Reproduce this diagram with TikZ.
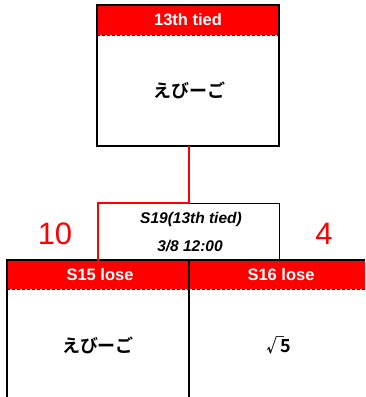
\documentclass[tikz,border=0pt]{standalone}
\usepackage{fontspec}
\setmainfont{Liberation Sans}
\newfontfamily\cjk{Noto Sans CJK JP}[UprightFont=* Bold]
\definecolor{hdr}{RGB}{255,0,0}
\begin{document}
\begin{tikzpicture}[x=1pt,y=-1pt,
  boxline/.style={draw=black,line width=2pt},
  hdrtext/.style={text=white,font=\fontsize{16.5}{16.5}\selectfont\bfseries},
  nametext/.style={font=\fontsize{18}{18}\selectfont\cjk},
  scoretext/.style={text=hdr,font=\fontsize{31}{31}\selectfont},
  infotext/.style={font=\fontsize{15.5}{16}\selectfont\bfseries\itshape},
  link/.style={draw=hdr,line width=2.8pt}]
\useasboundingbox (0,0) rectangle (365,397);
% top box
\fill[hdr] (97,5) rectangle (279,35);
\draw[black,densely dashed,line width=0.5pt] (97,35) -- (279,35);
\draw[boxline] (97,5) rectangle (279,146);
\node[hdrtext] (toph) at (188,20) {13th tied};
\node[nametext] (topn) at (189,90) {えびーご};
\coordinate (topb) at (189,146);
% middle info box
\node[draw=black,line width=0.8pt,minimum width=181pt,minimum height=58pt,inner sep=0pt] (info) at (188.5,232) {};
\node[infotext] (inf1) at (191,219) {S19(13th tied)};
\node[infotext] (inf2) at (190,246) {3/8 12:00};
% lower boxes
\fill[hdr] (7,260) rectangle (365,289);
\draw[black,densely dashed,line width=0.5pt] (7,289) -- (365,289);
\draw[boxline] (365,260) -- (7,260) -- (7,397);
\draw[boxline] (189,260) -- (189,397);
\node[hdrtext] (lh) at (100,275) {S15 lose};
\node[hdrtext] (rh) at (281,275) {S16 lose};
\node[nametext] (ln) at (98,345) {えびーご};
\node[nametext] (rn) at (279,345) {√\kern-3.5pt5};
\coordinate (lt) at (98,261);
% scores
\node[scoretext] (s1) at (55,234) {10};
\node[scoretext] (s2) at (324,234) {4};
% connector
\draw[link] (topb) -- (189,203) -- (98,203) -- (lt);
\end{tikzpicture}
\end{document}
